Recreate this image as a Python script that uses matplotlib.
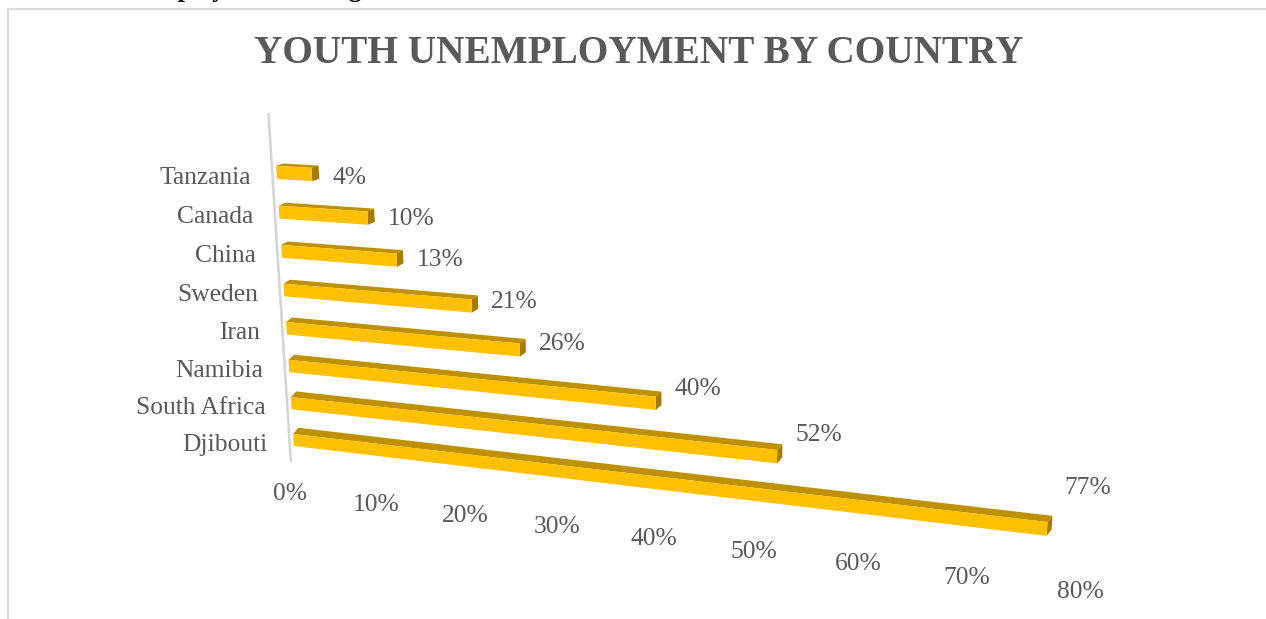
import numpy as np
from matplotlib import pyplot as plt
from matplotlib.patches import Polygon

plt.rcParams["font.family"] = ["Liberation Serif", "DejaVu Serif"]

countries = ["Djibouti", "South Africa", "Namibia", "Iran", "Sweden", "China", "Canada", "Tanzania"]
youth_unemployment = [77, 52, 40, 26, 21, 13, 10, 4]
axis_ticks = [0, 10, 20, 30, 40, 50, 60, 70, 80]

GREY = "#595959"
FRONT = "#FFC000"
TOP = "#BF9000"
SIDE = "#A67C00"

# floor plane of the chart: (value, row) -> pixel, as a perspective map
plane = [(0, 0), (80, 0), (0, 7), (80, 7)]
pixels = [(294, 446), (1081, 540), (277, 179), (1104, 229)]

A = []
b = []
for (u, v), (px, py) in zip(plane, pixels):
    A.append([u, v, 1, 0, 0, 0, -u * px, -v * px])
    A.append([0, 0, 0, u, v, 1, -u * py, -v * py])
    b += [px, py]
h = np.append(np.linalg.solve(np.array(A, float), np.array(b, float)), 1).reshape(3, 3)


def project(value, row):
    x, y, w = h @ np.array([value, row, 1.0])
    return x / w, y / w


fig = plt.figure(figsize=(12.66, 6.19), dpi=100)
ax = fig.add_axes([0, 0, 1, 1])
ax.set_xlim(0, 1266)
ax.set_ylim(619, 0)
ax.axis("off")

# chart frame, only the top and left edges are in view
ax.plot([7.5, 7.5, 1266], [619, 9, 9], color="#dcdcdc", lw=1.6, solid_joinstyle="miter")

# heading of the page above, mostly cut off
ax.text(112, -3, "Unemployment among", fontsize=18.5, fontweight="bold",
        color="black", ha="left", va="baseline", clip_on=False)

ax.text(638.5, 53.5, "YOUTH UNEMPLOYMENT BY COUNTRY", fontsize=28.25, fontweight="bold",
        color=GREY, ha="center", va="center")

# category axis line
ax_x, ax_y = zip(project(-0.5, -0.42), project(-0.5, 8.6))
ax.plot(ax_x, ax_y, color="#d4d4d4", lw=1.8)

bar_h = 0.33
for row, (name, val) in enumerate(zip(countries, youth_unemployment)):
    dx = 5 + 0.3 * row
    dy = 6.2 - 0.55 * row
    p0 = project(0, row)
    p1 = project(val, row)
    q0 = project(0, row + bar_h)
    q1 = project(val, row + bar_h)
    ax.add_patch(Polygon([q0, q1, (q1[0] + dx, q1[1] - dy), (q0[0] + dx, q0[1] - dy)],
                         fc=TOP, ec="none"))
    ax.add_patch(Polygon([p1, q1, (q1[0] + dx, q1[1] - dy), (p1[0] + dx, p1[1] - dy)],
                         fc=SIDE, ec="none"))
    ax.add_patch(Polygon([p0, p1, q1, q0], fc=FRONT, ec="none"))

    ax.text(p0[0] - 26.5, p0[1] - 1.5, name, fontsize=18.4, color=GREY, ha="right", va="center")
    # data labels lift away from the bar as the value grows
    lift = 1.5 + 0.35 * val + 0.0032 * val ** 2
    ax.text(p1[0] + dx + 13, p1[1] - lift, f"{val}%", fontsize=18.4, color=GREY,
            ha="left", va="center")

for t in axis_ticks:
    x, y = project(t, -1.2)
    ax.text(x - 7 + t * 0.12, y + 5 - t * 0.04, f"{t}%", fontsize=18.4, color=GREY,
            ha="center", va="center")

fig.savefig("out.png", dpi=100)
